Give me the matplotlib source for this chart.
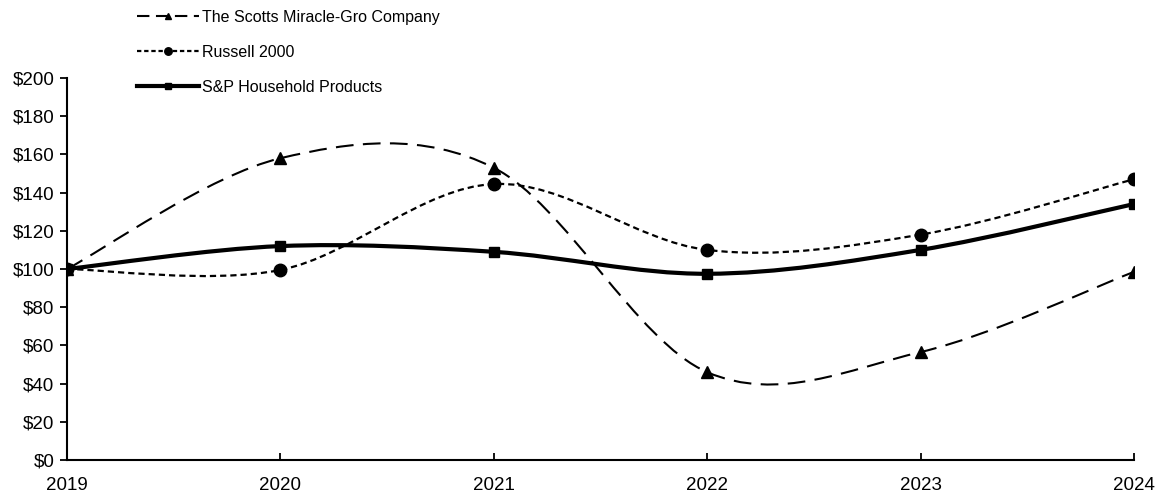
import numpy as np
import matplotlib
matplotlib.use("Agg")
import matplotlib.pyplot as plt
from matplotlib.path import Path
from matplotlib.patches import PathPatch
from matplotlib.lines import Line2D

plt.rcParams["font.family"] = ["Liberation Sans", "DejaVu Sans"]

years = [2019, 2020, 2021, 2022, 2023, 2024]
scotts = [100, 158, 153, 46, 56.5, 98.5]
russell = [100, 99.5, 144.5, 110, 118, 147]
household = [100, 112, 109, 97.5, 110, 134]

series_names = ["The Scotts Miracle-Gro Company", "Russell 2000", "S&P Household Products"]


def smooth_path(xs, ys):
    # Excel-style smoothed line: cubic Bezier through points
    pts = np.column_stack([xs, ys]).astype(float)
    padded = np.vstack([pts[0], pts, pts[-1]])
    verts = [pts[0]]
    codes = [Path.MOVETO]
    for i in range(1, len(pts)):
        p0, p1, p2, p3 = padded[i - 1], padded[i], padded[i + 1], padded[i + 2]
        c1 = p1 + (p2 - p0) / 6.0
        c2 = p2 - (p3 - p1) / 6.0
        verts += [c1, c2, p2]
        codes += [Path.CURVE4] * 3
    return Path(verts, codes)


fig = plt.figure(figsize=(11.63, 4.95), dpi=100)
ax = fig.add_axes([0.0576, 0.0707, 0.9174, 0.7717])

styles = [
    dict(dashes=(8.5, 4.5), lw=1.5, marker="^", ms=8),
    dict(dashes=(2.8, 1.8), lw=1.6, marker="o", ms=9),
    dict(dashes=None, lw=3.0, marker="s", ms=7.5),
]

handles = []
for values, name, st in zip([scotts, russell, household], series_names, styles):
    patch = PathPatch(smooth_path(years, values), facecolor="none", edgecolor="black",
                      lw=st["lw"], capstyle="butt", joinstyle="round")
    if st["dashes"]:
        patch.set_linestyle((0, st["dashes"]))
    ax.add_patch(patch)
    ax.plot(years, values, linestyle="none", marker=st["marker"], ms=st["ms"],
            color="black", zorder=4)
    ls = (0, (st["dashes"][0] * 0.7, st["dashes"][1] * 0.7)) if st["dashes"] else "-"
    handles.append(Line2D([], [], color="black", lw=st["lw"], linestyle=ls,
                          marker=st["marker"], ms=st["ms"] * 0.6, label=name))

ax.set_xlim(2019, 2024)
ax.set_ylim(0, 200)
ax.set_xticks(years)
ax.set_yticks(range(0, 201, 20))
ax.set_yticklabels([f"${v}" for v in range(0, 201, 20)])
ax.tick_params(axis="y", direction="out", length=5, width=1.3, labelsize=13.5, pad=4)
ax.tick_params(axis="x", direction="in", length=5, width=1.3, labelsize=13.5, pad=12)
for side in ("top", "right"):
    ax.spines[side].set_visible(False)
for side in ("left", "bottom"):
    ax.spines[side].set_linewidth(1.5)

leg = fig.legend(handles=handles, loc="upper left", bbox_to_anchor=(137 / 1163, 1 - 10 / 495),
                 frameon=False, fontsize=11.5, handlelength=3.9, handletextpad=0.2,
                 labelspacing=1.25, borderaxespad=0, borderpad=0)

fig.savefig("out.png", dpi=100)
